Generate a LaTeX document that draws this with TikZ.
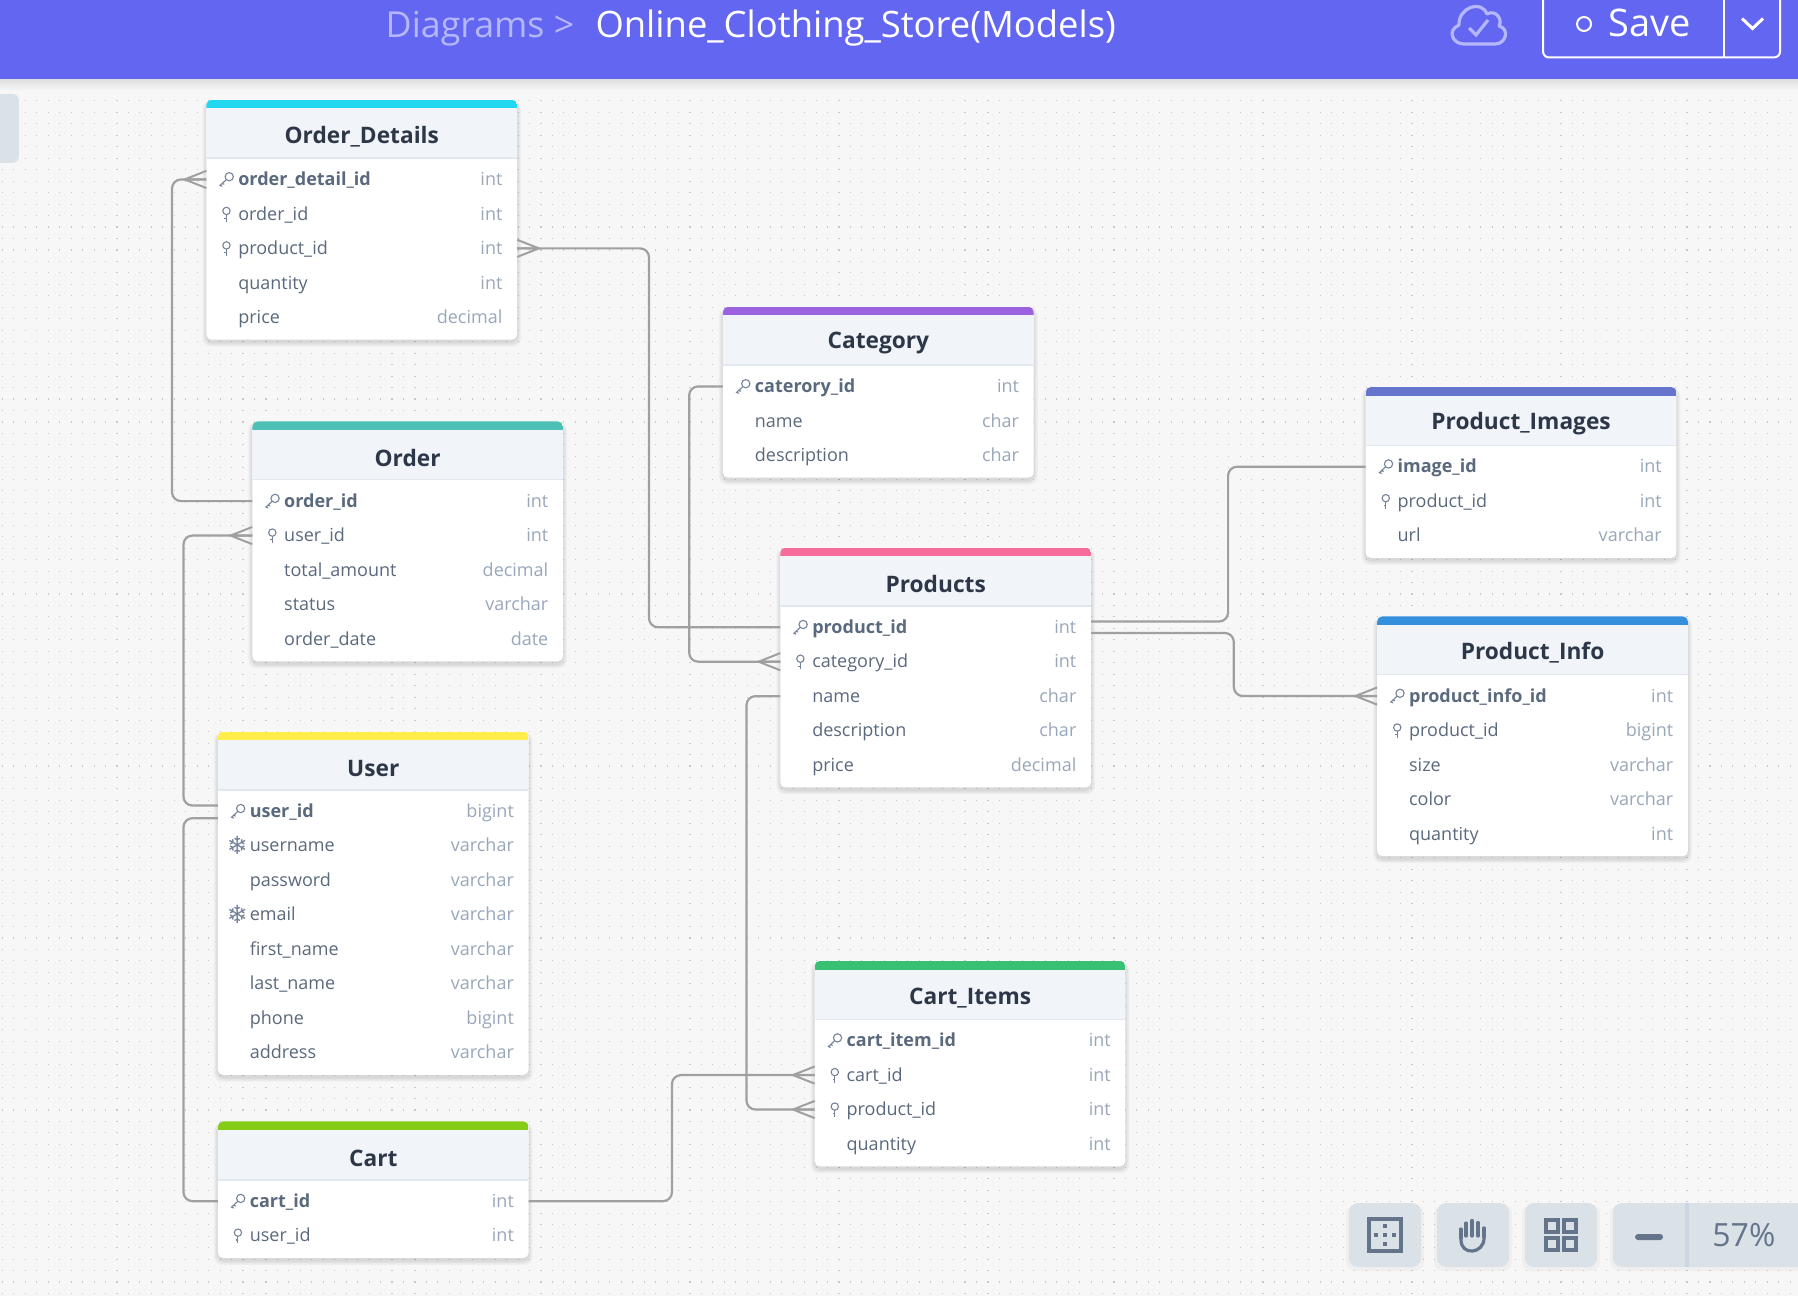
\documentclass[tikz,border=0pt]{standalone}
\usepackage{fontspec}
\setmainfont{Open Sans}
\newfontfamily\symfont{DejaVu Sans}
\usetikzlibrary{calc}
\definecolor{pagebg}{HTML}{F7F7F7}
\definecolor{griddot}{HTML}{C8C8C8}
\definecolor{barblue}{HTML}{6366F1}
\definecolor{barsoft}{HTML}{B4B7FA}
\definecolor{headfill}{HTML}{F1F5F9}
\definecolor{headline}{HTML}{E2E8F0}
\definecolor{titleink}{HTML}{2D3748}
\definecolor{nameink}{HTML}{5A697D}
\definecolor{typeink}{HTML}{98A7BA}
\definecolor{iconink}{HTML}{74839A}
\definecolor{connink}{HTML}{A0A0A0}
\definecolor{toolfill}{HTML}{DAE2E8}
\definecolor{toolink}{HTML}{64748B}
\definecolor{tooldiv}{HTML}{CBD6E2}
\definecolor{cCyan}{HTML}{22D7F0}
\definecolor{cPurple}{HTML}{9B62E0}
\definecolor{cTeal}{HTML}{4DC0B5}
\definecolor{cPink}{HTML}{F66D9B}
\definecolor{cIndigo}{HTML}{6574CD}
\definecolor{cBlue}{HTML}{3490DC}
\definecolor{cYellow}{HTML}{FFED4A}
\definecolor{cLime}{HTML}{84CC16}
\definecolor{cGreen}{HTML}{38C172}
\newcommand{\uu}{0.57334pt}
\tikzset{
  conn/.style={draw=connink,line width=1.1pt,rounded corners=4.5pt},
  crowline/.style={draw=connink,line width=1pt},
  tablebody/.style={fill=white,rounded corners=2.6pt,inner sep=0pt,outer sep=0pt,anchor=north west},
  titletext/.style={font=\fontsize{11.35}{14}\selectfont\bfseries,text=titleink,inner sep=0pt},
  rowname/.style={font=\fontsize{9}{11}\selectfont,text=nameink,inner sep=0pt,anchor=base west},
  rowkey/.style={font=\fontsize{9}{11}\selectfont\bfseries,text=nameink,inner sep=0pt,anchor=base west},
  rowtype/.style={font=\fontsize{9}{11}\selectfont,text=typeink,inner sep=0pt,anchor=base east},
  iconline/.style={draw=iconink,line width=0.55pt},
  toolbtn/.style={fill=toolfill,rounded corners=4.5pt},
  toolstroke/.style={draw=toolink,line width=1.6pt},
}
% key icons
\newcommand{\rowicon}[3]{%
  \if#1k%
    \draw[iconline] (#2+2.4,#3-2.4) circle[radius=3.6];
    \draw[iconline] (#2-0.2,#3+0.2) -- (#2-5.6,#3+5.2) -- (#2-3.6,#3+6) (#2-3.8,#3+3.6) -- (#2-1.9,#3+4.2);
  \fi
  \if#1f%
    \draw[iconline] (#2,#3-2.6) circle[radius=3.2];
    \draw[iconline] (#2,#3+0.6) -- (#2,#3+6.8) (#2,#3+3.8) -- (#2-1.9,#3+3.8);
  \fi
  \if#1s%
    \node[inner sep=0pt,text=iconink,font=\symfont\fontsize{12.5}{13}\selectfont] at (#2-0.5,#3) {❄};
  \fi
}
% \erdtable{name}{x}{top}{colour}{title}{rows}{list}
\newcommand{\erdtable}[7]{%
  \pgfmathsetmacro{\hh}{69.5+30.05*(#6-1)+19.5}
  \foreach \ss in {4,3,2,1}{
    \fill[black,opacity=0.03,rounded corners=4pt]
      (#2-\ss+0.5,#3+1) rectangle (#2+271-\ss*-1-0.5,#3+\hh+\ss+2);
  }
  \node[tablebody,minimum width=271*\uu,minimum height=\hh*\uu] (#1) at (#2,#3) {};
  \begin{scope}
    \clip[rounded corners=2.6pt] (#2,#3) rectangle (#2+271,#3+\hh);
    \fill[headfill] (#2,#3) rectangle (#2+271,#3+51.5);
    \fill[headline] (#2,#3+50.3) rectangle (#2+271,#3+51.5);
    \fill[#4] (#2,#3) rectangle (#2+271,#3+7.5);
  \end{scope}
  \node[titletext] (#1-title) at (#2+135.5,#3+32) {#5};
  \foreach \kk/\nn/\tt [count=\ii] in {#7}{
    \pgfmathsetmacro{\ry}{#3+69.5+30.05*(\ii-1)}
    \coordinate (#1-\ii-w) at (#2,\ry);
    \coordinate (#1-\ii-e) at (#2+271,\ry);
    \if\kk k
      \node[rowkey] (#1-\ii-n) at (#2+27.5,\ry+5.4) {\nn};
    \else
      \node[rowname] (#1-\ii-n) at (#2+27.5,\ry+5.4) {\nn};
    \fi
    \node[rowtype] (#1-\ii-t) at (#2+258.5,\ry+5.4) {\tt};
    \rowicon{\kk}{#2+17.5}{\ry}
  }
}
% \crowfoot{coordinate}{direction -1/+1}
\newcommand{\crowfoot}[2]{%
  \draw[crowline] ($(#1)+(0,-7.5)$) -- ($(#1)+(#2*19,0)$) -- ($(#1)+(0,7.5)$) ($(#1)+(#2*19,0)$) -- (#1);
}
\begin{document}
\begin{tikzpicture}[x=\uu,y=-\uu]
\useasboundingbox (0,0) rectangle (1568,1130.2);
\clip (0,0) rectangle (1568,1130.2);
\fill[pagebg] (0,0) rectangle (1568,1130.2);
% dotted grid
\foreach \yy in {78,88,...,1128}{
  \draw[griddot,line width=0.55pt,dash pattern=on 0.55pt off 5.18pt] (1.6,\yy) -- (1568,\yy);
}
% top bar
\shade[top color=black!13,bottom color=pagebg] (0,69) rectangle (1568,79);
\fill[barblue] (0,0) rectangle (1568,69);
\node[inner sep=0pt,anchor=base west,text=barsoft,font=\fontsize{17.9}{20}\selectfont] (crumb) at (336,33) {Diagrams >};
\node[inner sep=0pt,anchor=base west,text=white,font=\fontsize{18.2}{20}\selectfont] (doc) at (519,33) {Online\_Clothing\_Store(Models)};
% left tab
\fill[toolfill,rounded corners=3pt] (-10,82) rectangle (16.5,142);
\begin{scope}[x=0.5pt,y=-0.5pt]
  % cloud
  \draw[barsoft,line width=1.6pt,line join=round] (1464,44) .. controls (1452,44) and (1447,30) .. (1459,25)
    .. controls (1458,8) and (1481,-1) .. (1487,14) .. controls (1496,9) and (1503,20) .. (1499,26)
    .. controls (1510,29) and (1506,44) .. (1495,44) -- cycle;
  \draw[barsoft,line width=1.6pt] (1469,28) -- (1476,35) -- (1488,20);
  % save button
  \draw[white,line width=1pt,rounded corners=3pt] (1543,-10) -- (1543,57.5) -- (1780,57.5) -- (1780,-10);
  \draw[white,line width=1pt] (1724,-10) -- (1724,57.5);
  \draw[white,line width=1pt] (1584,24) circle[radius=7];
  \node[inner sep=0pt,anchor=base west,text=white,font=\fontsize{19}{20}\selectfont] (savelabel) at (1608,37) {Save};
  \draw[white,line width=1.5pt] (1742,18.5) -- (1752.5,28.5) -- (1763,18.5);
  % toolbar
  \foreach \bx in {1349,1437,1525}{
    \fill[black,opacity=0.03,rounded corners=4.5pt] (\bx-3,1205) rectangle (\bx+75,1271);
    \fill[toolbtn] (\bx,1203) rectangle (\bx+72,1267);
  }
  \fill[black,opacity=0.03,rounded corners=4.5pt] (1610,1205) rectangle (1810,1271);
  \fill[toolbtn] (1613,1203) rectangle (1810,1267);
  \fill[tooldiv] (1685,1203) rectangle (1689,1267);
  \draw[toolstroke] (1369,1219) rectangle (1401,1251);
  \foreach \dx/\dy in {0/-9,0/9,-9/0,9/0,0/0}{
    \fill[toolink] (1385+\dx-1.7,1235+\dy-1.7) rectangle (1385+\dx+1.7,1235+\dy+1.7);
  }
  \draw[toolstroke,line cap=round,line join=round] (1461,1238) -- (1461,1229) (1466,1236) -- (1466,1223) (1472,1236) -- (1472,1220.5) (1478,1236) -- (1478,1222.5) (1484,1237) -- (1484,1228);
  \draw[toolstroke,line cap=round] (1461,1232) -- (1461,1240) .. controls (1461,1256) and (1484,1254) .. (1484,1238) -- (1484,1228);
  \foreach \gx/\gy in {1545/1219,1563/1219,1545/1237,1563/1237}{
    \draw[toolstroke] (\gx+1,\gy+1) rectangle (\gx+13,\gy+13);
  }
  \fill[toolink,rounded corners=1.5pt] (1635,1234) rectangle (1663,1240);
  \node[inner sep=0pt,anchor=base west,text=toolink,font=\fontsize{16}{18}\selectfont] (zoomlabel) at (1712,1246) {57\%};
\end{scope}
% tables
\erdtable{od}{180}{87}{cCyan}{Order\_Details}{5}{k/order\_detail\_id/int,f/order\_id/int,f/product\_id/int,n/quantity/int,n/price/decimal}
\erdtable{ord}{220}{367.5}{cTeal}{Order}{5}{k/order\_id/int,f/user\_id/int,n/total\_amount/decimal,n/status/varchar,n/order\_date/date}
\erdtable{usr}{190}{638}{cYellow}{User}{8}{k/user\_id/bigint,s/username/varchar,n/password/varchar,s/email/varchar,n/first\_name/varchar,n/last\_name/varchar,n/phone/bigint,n/address/varchar}
\erdtable{crt}{190}{978}{cLime}{Cart}{2}{k/cart\_id/int,f/user\_id/int}
\erdtable{cat}{630.5}{267.5}{cPurple}{Category}{3}{k/caterory\_id/int,n/name/char,n/description/char}
\erdtable{prd}{680.5}{477.5}{cPink}{Products}{5}{k/product\_id/int,f/category\_id/int,n/name/char,n/description/char,n/price/decimal}
\erdtable{img}{1191}{337.5}{cIndigo}{Product\_Images}{3}{k/image\_id/int,f/product\_id/int,n/url/varchar}
\erdtable{inf}{1201}{537.5}{cBlue}{Product\_Info}{5}{k/product\_info\_id/int,f/product\_id/bigint,n/size/varchar,n/color/varchar,n/quantity/int}
\erdtable{itm}{710.5}{838}{cGreen}{Cart\_Items}{4}{k/cart\_item\_id/int,f/cart\_id/int,f/product\_id/int,n/quantity/int}
% connectors
\coordinate (usr-top) at ($(usr-1-w)+(0,6)$);
\coordinate (prd-hi) at ($(prd-1-e)+(0,-5)$);
\coordinate (prd-lo) at ($(prd-1-e)+(0,5)$);
\draw[conn] (od-1-w) -- (od-1-w -| 150,0) -- (ord-1-w -| 150,0) -- (ord-1-w);
\draw[conn] (ord-2-w) -- (ord-2-w -| 160,0) -- ($(usr-1-w)+(-30,-5)$) -- ($(usr-1-w)+(0,-5)$);
\draw[conn] (usr-top) -- (usr-top -| 160,0) -- (crt-1-w -| 160,0) -- (crt-1-w);
\draw[conn] (od-3-e) -- (od-3-e -| 566,0) -- (prd-1-w -| 566,0) -- (prd-1-w);
\draw[conn] (cat-1-w) -- (cat-1-w -| 601,0) -- (prd-2-w -| 601,0) -- (prd-2-w);
\draw[conn] (prd-hi) -- (prd-hi -| 1071,0) -- (img-1-w -| 1071,0) -- (img-1-w);
\draw[conn] (prd-lo) -- (prd-lo -| 1076,0) -- (inf-1-w -| 1076,0) -- (inf-1-w);
\draw[conn] (prd-3-w) -- (prd-3-w -| 651,0) -- (itm-3-w -| 651,0) -- (itm-3-w);
\draw[conn] (crt-1-e) -- (crt-1-e -| 586,0) -- (itm-2-w -| 586,0) -- (itm-2-w);
\crowfoot{od-1-w}{-1}
\crowfoot{ord-2-w}{-1}
\crowfoot{od-3-e}{1}
\crowfoot{prd-2-w}{-1}
\crowfoot{inf-1-w}{-1}
\crowfoot{itm-2-w}{-1}
\crowfoot{itm-3-w}{-1}
\end{tikzpicture}
\end{document}
